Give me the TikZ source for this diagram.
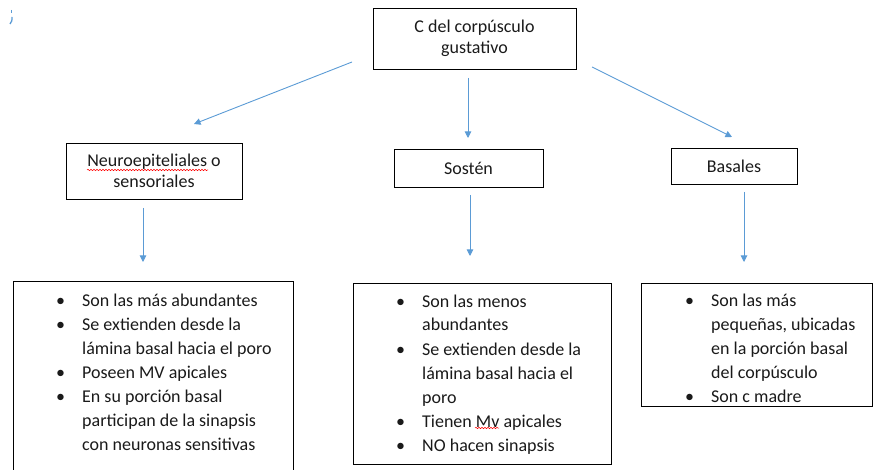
\documentclass[tikz,border=0pt]{standalone}
\usepackage{fontspec}
\setmainfont{Carlito}
\usetikzlibrary{arrows.meta,decorations.pathmorphing}
\definecolor{arrblue}{HTML}{5B9BD5}
\definecolor{txt}{HTML}{1A1A1A}
\newcommand\bul{\makebox[26pt][l]{\textbullet}}
\newcommand\ind{\hspace*{26pt}}
\begin{document}
\begin{tikzpicture}[x=1pt,y=-1pt,
  box/.style={draw=black, line width=0.9pt, inner sep=0pt, align=center, text=txt,
              font=\fontsize{18}{21.5}\selectfont},
  listbox/.style={draw=black, line width=0.9pt, inner sep=0pt, anchor=north west},
  listtxt/.style={inner sep=0pt, anchor=base west, text=txt, font=\fontsize{18}{24}\selectfont},
  arr/.style={draw=arrblue, line width=0.9pt, -{Triangle[width=6.5pt,length=6.5pt]}},
  wave/.style={draw=red, line width=0.5pt, decorate, decoration={snake, amplitude=0.7pt, segment length=3pt}}]
\useasboundingbox (0,0) rectangle (875,470);
\clip (0,0) rectangle (875,470);

% top and category boxes
\node[box, minimum width=203pt, minimum height=61pt] (top) at (474.5,38.5) {C del corpúsculo\\gustativo};
\node[box, minimum width=176pt, minimum height=56pt] (neuro) at (154,171) {Neuroepiteliales o\\sensoriales};
\node[box, minimum width=149pt, minimum height=38pt] (sos) at (468.5,168) {Sostén};
\node[box, minimum width=126pt, minimum height=36pt] (bas) at (734,166) {Basales};

% list boxes
\node[listbox, minimum width=280pt, minimum height=200pt] (lbox) at (13,281) {};
\node[listbox, minimum width=258pt, minimum height=181pt] (mbox) at (353,283) {};
\node[listbox, minimum width=231pt, minimum height=123pt] (rbox) at (641,283) {};

\node[listtxt] (ltxt) at (56,306) {\begin{tabular}[t]{@{}l@{}}
\bul Son las más abundantes\\
\bul Se extienden desde la\\
\ind lámina basal hacia el poro\\
\bul Poseen MV apicales\\
\bul En su porción basal\\
\ind participan de la sinapsis\\
\ind con neuronas sensitivas
\end{tabular}};
\node[listtxt] (mtxt) at (396,307) {\begin{tabular}[t]{@{}l@{}}
\bul Son las menos\\
\ind abundantes\\
\bul Se extienden desde la\\
\ind lámina basal hacia el\\
\ind poro\\
\bul Tienen Mv apicales\\
\bul NO hacen sinapsis
\end{tabular}};
\node[listtxt] (rtxt) at (685,306) {\begin{tabular}[t]{@{}l@{}}
\bul Son las más\\
\ind pequeñas, ubicadas\\
\ind en la porción basal\\
\ind del corpúsculo\\
\bul Son c madre
\end{tabular}};

% spell-check underlines
\draw[wave] (87,170) -- (208,170);
\draw[wave] (475,428) -- (499,428);

% connectors
\coordinate (a1s) at (352,62);  \coordinate (a1e) at (194,124);
\coordinate (a2s) at (468,78);  \coordinate (a2e) at (468,138);
\coordinate (a3s) at (592,67);  \coordinate (a3e) at (732,137);
\coordinate (b1s) at (143,208); \coordinate (b1e) at (143,262);
\coordinate (b2s) at (470,195); \coordinate (b2e) at (470,256);
\coordinate (b3s) at (744,192); \coordinate (b3e) at (744,262);
\draw[arr] (a1s) -- (a1e);
\draw[arr] (a2s) -- (a2e);
\draw[arr] (a3s) -- (a3e);
\draw[arr] (b1s) -- (b1e);
\draw[arr] (b2s) -- (b2e);
\draw[arr] (b3s) -- (b3e);

% small stray mark top-left
\draw[arrblue, line width=1pt] (11,10) -- (11,13);
\draw[arrblue, line width=1.3pt] (12,17) .. controls (12,21) .. (10,24);
\end{tikzpicture}
\end{document}
